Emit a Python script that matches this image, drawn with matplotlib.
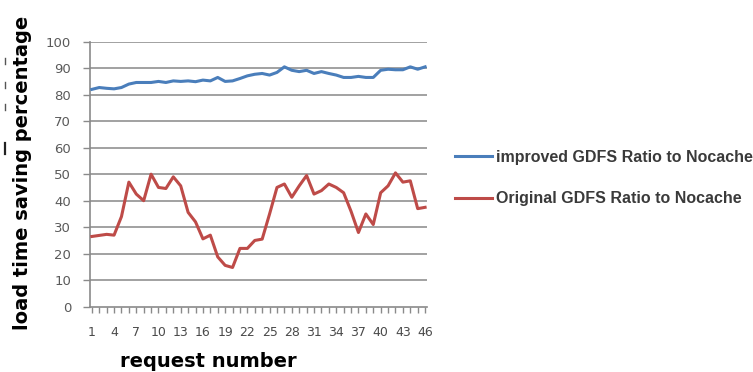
import matplotlib.pyplot as plt

# request numbers 1..46
requests = list(range(1, 47))

# load time saving (%) of the improved GDFS compared with no cache
improved = [82, 82.7, 82.4, 82.2, 82.7, 84, 84.6, 84.6, 84.6, 85, 84.6, 85.2,
            85, 85.2, 84.9, 85.5, 85.2, 86.5, 85, 85.2, 86.1, 87.1, 87.7, 88,
            87.4, 88.4, 90.5, 89.2, 88.7, 89.2, 88, 88.7, 88, 87.4, 86.5, 86.5,
            86.9, 86.5, 86.5, 89.2, 89.6, 89.4, 89.4, 90.5, 89.6, 90.5]

# load time saving (%) of the original GDFS compared with no cache
original = [26.5, 26.9, 27.3, 27, 34, 47, 42.5, 40, 50, 45, 44.6, 49,
            45.6, 35.6, 32, 25.6, 27, 18.8, 15.6, 14.8, 22, 22, 25, 25.5,
            35, 45, 46.3, 41.3, 45.6, 49.5, 42.5, 43.8, 46.3, 45, 43, 36,
            28, 35, 31, 43, 45.6, 50.5, 47, 47.5, 37, 37.5]

xtick_labels = list(range(1, 47, 3))
ytick_values = list(range(0, 101, 10))

fig = plt.figure(figsize=(7.53, 3.72), dpi=100)
ax = fig.add_axes([0.1195, 0.1755, 0.4475, 0.7125])

for v in ytick_values[1:]:
    ax.axhline(v, color='#9a9a9a', lw=1.3, zorder=1)

ax.plot(requests, improved, color='#4A7EBB', lw=2.2, zorder=3,
        label='improved GDFS Ratio to Nocache')
ax.plot(requests, original, color='#BE4B48', lw=2.2, zorder=3,
        label='Original GDFS Ratio to Nocache')

ax.set_xlim(0.75, 46.25)
ax.set_ylim(0, 100)

ax.set_yticks(ytick_values)
ax.set_yticklabels([str(v) for v in ytick_values])
ax.set_xticks(xtick_labels)
ax.set_xticklabels([str(v) for v in xtick_labels])
ax.set_xticks(requests, minor=True)

for side in ['top', 'right']:
    ax.spines[side].set_visible(False)
ax.spines['left'].set_color('#8a8a8a')
ax.spines['bottom'].set_color('#8a8a8a')
ax.spines['left'].set_linewidth(1.2)
ax.spines['bottom'].set_linewidth(1.2)

ax.tick_params(axis='y', length=5, width=1, color='#8a8a8a', pad=8.5,
               labelsize=9.5, labelcolor='#5a5a5a')
ax.tick_params(axis='x', which='both', length=4, width=1, color='#8a8a8a',
               pad=10, labelsize=9, labelcolor='#4a4a4a')

ax.set_ylabel('load time saving percentage', fontsize=14, fontweight='bold')
ax.yaxis.set_label_coords(-0.172, 0.505)
ax.set_xlabel('request number', fontsize=14, fontweight='bold')
ax.xaxis.set_label_coords(0.35, -0.172)

# small marks left of the y label
for yy in [0.835, 0.772, 0.713]:
    fig.add_artist(plt.Line2D([0.007, 0.007], [yy - 0.008, yy + 0.008],
                              color='#555555', lw=1))
fig.add_artist(plt.Line2D([0.007, 0.007], [0.585, 0.615], color='#222222', lw=1.6))

leg = fig.legend(loc='upper left', bbox_to_anchor=(0.604, 0.597),
                 frameon=False, borderpad=0, borderaxespad=0,
                 handlelength=2.3, handletextpad=0.25, labelspacing=1.65,
                 prop={'family': 'Liberation Sans', 'weight': 'bold',
                       'size': 11.5})
for t in leg.get_texts():
    t.set_color('#3a3a3a')

fig.savefig('out.png', dpi=100)
